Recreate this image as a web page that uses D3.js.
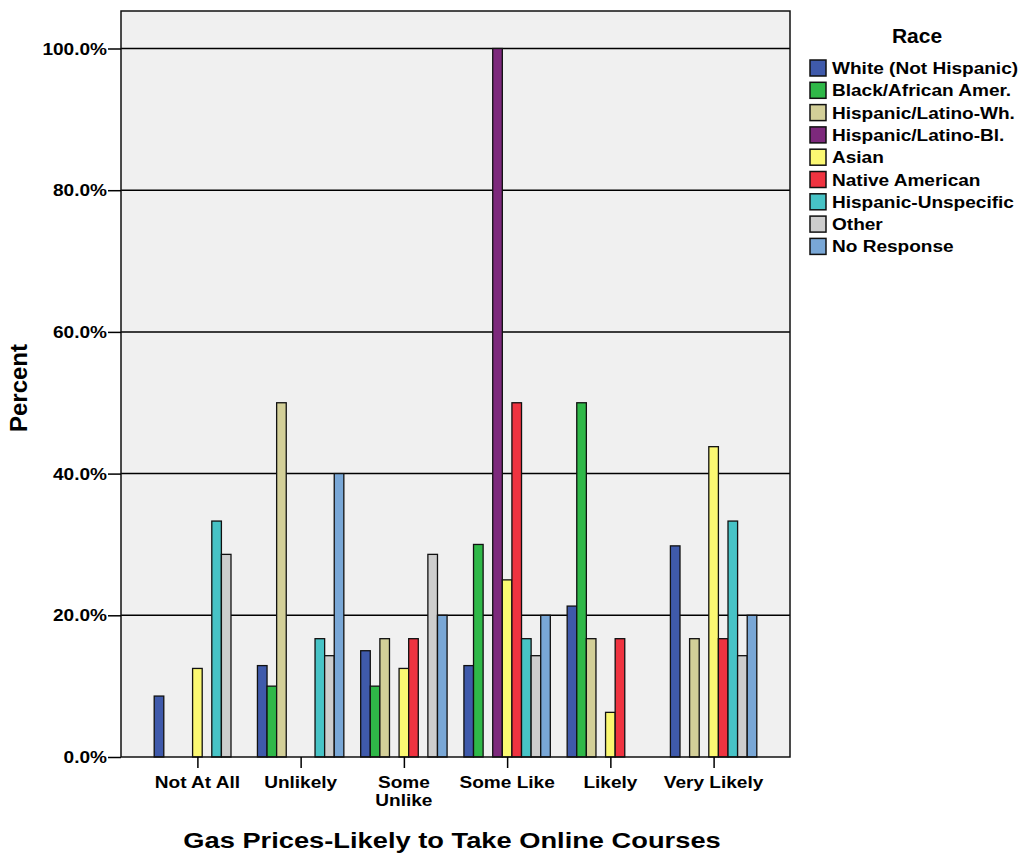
<!DOCTYPE html>
<html><head><meta charset="utf-8">
<script src="https://cdn.jsdelivr.net/npm/d3@7"></script>
<style>body{margin:0;background:#fff}svg{display:block}text{font-family:"Liberation Sans",Arial,sans-serif;font-weight:bold;fill:#000}</style>
</head><body>
<script>
const categories = ["Not At All","Unlikely","Some Unlike","Some Like","Likely","Very Likely"];
const seriesNames = ["White (Not Hispanic)","Black/African Amer.","Hispanic/Latino-Wh.","Hispanic/Latino-Bl.","Asian","Native American","Hispanic-Unspecific","Other","No Response"];
const colors = ["#3f5aab","#2fb848","#d3cf98","#7d297c","#fbf872","#ef3340","#47c3c6","#cdcdcd","#79a7d6"];
// values per series, indexed by category (null = no bar)
const white    = [8.6, 12.9, 15.0, 12.9, 21.3, 29.8];
const black    = [null, 10.0, 10.0, 30.0, 50.0, null];
const hispWh   = [null, 50.0, 16.7, null, 16.7, 16.7];
const hispBl   = [null, null, null, 100.0, null, null];
const asian    = [12.5, null, 12.5, 25.0, 6.3, 43.8];
const native   = [null, null, 16.7, 50.0, 16.7, 16.7];
const hispUns  = [33.3, 16.7, null, 16.7, null, 33.3];
const other    = [28.6, 14.3, 28.6, 14.3, null, 14.3];
const noResp   = [null, 40.0, 20.0, 20.0, null, 20.0];
const yTicks = [0,20,40,60,80,100];
const series = [white,black,hispWh,hispBl,asian,native,hispUns,other,noResp];

const W=1021,H=855;
const svg=d3.select("body").append("svg").attr("width",W).attr("height",H);
const L=121,R=790,T=11,B=757;
const y=d3.scaleLinear().domain([0,100]).range([B,48.5]);
const x=d3.scalePoint().domain(categories).range([L,R]).padding(0.74);
const inner=d3.scaleBand().domain(d3.range(seriesNames.length)).range([-43.2,43.2]).padding(0);

function txt(g,px,py,str,size,sx,anchor){
  return g.append("text").attr("transform",`translate(${px},${py}) scale(${sx},1)`)
    .attr("text-anchor",anchor||"start").attr("font-size",size+"px").text(str);
}

svg.append("rect").attr("x",L).attr("y",T).attr("width",R-L).attr("height",B-T).attr("fill","#f0f0f0");
// gridlines
svg.append("g").selectAll("line").data(yTicks.filter(d=>d>0)).join("line")
  .attr("x1",L).attr("x2",R).attr("y1",d=>y(d)).attr("y2",d=>y(d)).attr("stroke","#000").attr("stroke-width",1.5);

// bars
const data=[];
series.forEach((arr,si)=>arr.forEach((v,ci)=>{ if(v!=null) data.push({si,ci,v}); }));
svg.append("g").selectAll("rect").data(data).join("rect")
  .attr("x",d=>x(categories[d.ci])+inner(d.si))
  .attr("y",d=>y(d.v))
  .attr("width",inner.bandwidth())
  .attr("height",d=>B-y(d.v))
  .attr("fill",d=>colors[d.si]).attr("stroke","#111").attr("stroke-width",1.3);

// frame
svg.append("rect").attr("x",L).attr("y",T).attr("width",R-L).attr("height",B-T).attr("fill","none").attr("stroke","#111").attr("stroke-width",1.5);

// y axis
const yAxis=svg.append("g").attr("transform",`translate(${L},0)`).call(d3.axisLeft(y).tickValues(yTicks).tickSize(13).tickFormat(""));
yAxis.select(".domain").remove();
yAxis.selectAll("line").attr("stroke","#000").attr("stroke-width",1.5);
const yl=svg.append("g");
yTicks.forEach(t=>txt(yl,107,y(t)+6,t.toFixed(1)+"%",16,1.19,"end"));

// x axis
const xAxis=svg.append("g").attr("transform",`translate(0,${B})`).call(d3.axisBottom(x).tickSize(11).tickFormat(""));
xAxis.select(".domain").remove();
xAxis.selectAll("line").attr("stroke","#000").attr("stroke-width",1.5);
const xl=svg.append("g");
categories.forEach(c=>{
  const parts = c==="Some Unlike" ? ["Some","Unlike"] : [c];
  parts.forEach((p,i)=>txt(xl,x(c),788+i*18,p,16,1.19,"middle"));
});

// titles
txt(svg,452,848,"Gas Prices-Likely to Take Online Courses",22,1.24,"middle");
svg.append("text").attr("transform","translate(27,388) rotate(-90)").attr("text-anchor","middle").attr("font-size","24px").text("Percent");

// legend
const lg=svg.append("g");
txt(lg,917,43,"Race",20,1.05,"middle");
seriesNames.forEach((n,i)=>{
  const yy=60+i*22.3;
  lg.append("rect").attr("x",810).attr("y",yy).attr("width",16).attr("height",16).attr("fill",colors[i]).attr("stroke","#111").attr("stroke-width",1.5);
  txt(lg,832,yy+14,n,16,1.19,"start");
});
</script>
</body></html>
